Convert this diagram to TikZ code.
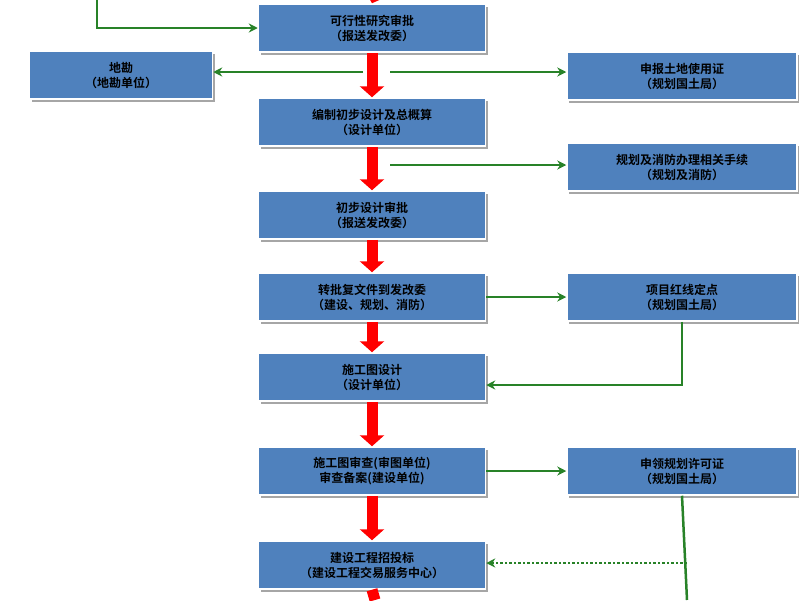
\documentclass[tikz,border=0pt]{standalone}
\usepackage{fontspec}
\setmainfont{Noto Sans CJK SC}[BoldFont={Noto Sans CJK SC Bold}]
\usetikzlibrary{arrows.meta,shadows}
\definecolor{boxblue}{RGB}{79,129,189}
\definecolor{gline}{RGB}{40,130,40}
\begin{document}
\begin{tikzpicture}[x=1pt,y=-1pt,
 box/.style={draw=white,line width=1.5pt,fill=boxblue,minimum width=227pt,minimum height=48pt,align=center,font=\bfseries\fontsize{12}{15}\selectfont,text=black,inner sep=1pt,
   drop shadow={shadow xshift=2pt,shadow yshift=-3pt,fill=gray!70,opacity=1}},
 sbox/.style={box,minimum width=230pt},
 lbox/.style={box,minimum width=183pt},
 redarr/.style={draw=red,line width=11pt,-{Triangle[width=24pt,length=11pt]}},
 grn/.style={draw=gline,line width=2.5pt,-{Stealth[length=9pt,width=9pt]}}]
\useasboundingbox (0,0) rectangle (800,600);
\node[box] (b1) at (372,28) {可行性研究审批\\（报送发改委）};
\node[box] (b2) at (372,122) {编制初步设计及总概算\\（设计单位）};
\node[box] (b3) at (372,215) {初步设计审批\\（报送发改委）};
\node[box] (b4) at (372,297) {转批复文件到发改委\\（建设、规划、消防）};
\node[box] (b5) at (372,377) {施工图设计\\（设计单位）};
\node[box] (b6) at (372,471) {施工图审查(审图单位)\\审查备案(建设单位)};
\node[box] (b7) at (372,565) {建设工程招投标\\（建设工程交易服务中心）};
\node[lbox] (l1) at (121,75) {地勘\\（地勘单位）};
\node[sbox] (r1) at (682,76) {申报土地使用证\\（规划国土局）};
\node[sbox] (r2) at (682,167) {规划及消防办理相关手续\\（规划及消防）};
\node[sbox] (r3) at (682,297) {项目红线定点\\（规划国土局）};
\node[sbox] (r4) at (682,471) {申领规划许可证\\（规划国土局）};
\coordinate (top) at (375,-6);
\coordinate (bot) at (375,600);
\coordinate (tl) at (97,0);
\draw[redarr] (top) -- (b1.north);
\draw[redarr] (b1.south) -- (b2.north);
\draw[redarr] (b2.south) -- (b3.north);
\draw[redarr] (b3.south) -- (b4.north);
\draw[redarr] (b4.south) -- (b5.north);
\draw[redarr] (b5.south) -- (b6.north);
\draw[redarr] (b6.south) -- (b7.north);
\draw[draw=red,line width=11pt] (b7.south) -- (bot);
\draw[grn] (tl) |- (b1.west);
\coordinate (m1) at (363,72);
\coordinate (m2) at (390,72);
\coordinate (m3) at (390,165);
\draw[grn] (m1) -- (l1.east|-m1);
\draw[grn] (m2) -- (r1.west|-m2);
\draw[grn] (m3) -- (r2.west|-m3);
\draw[grn] (b4.east) -- (r3.west);
\draw[grn] (r3.south) |- (b5.east|-0,385);
\draw[grn] (b6.east) -- (r4.west);
\coordinate (r4b) at (687,600);
\draw[draw=gline,line width=2.5pt] (r4.south) -- (r4b);
\coordinate (dt) at (687,563);
\draw[grn,dotted] (dt) -- (b7.east|-dt);
\end{tikzpicture}
\end{document}
